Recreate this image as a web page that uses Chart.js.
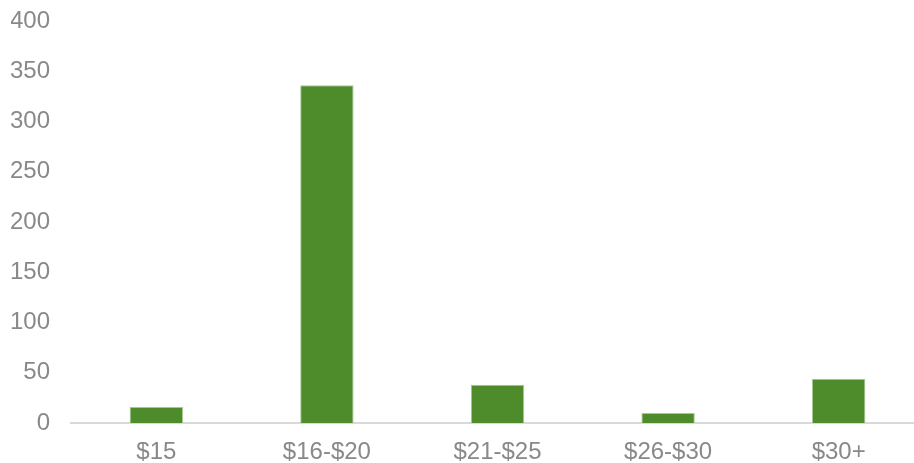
<!DOCTYPE html>
<html>
<head>
<meta charset="utf-8">
<script src="https://cdn.jsdelivr.net/npm/chart.js@4/dist/chart.umd.min.js"></script>
<style>
    html, body { margin: 0; padding: 0; background: #fff; overflow: hidden; }
    #wrap { width: 924px; height: 463px; position: relative; }
</style>
</head>
<body>
<div id="wrap"><canvas id="price-chart"></canvas></div>
<script>
const categories = ['$15', '$16-$20', '$21-$25', '$26-$30', '$30+'];
const counts = [16, 336, 38, 10, 44];
const yTicks = [0, 50, 100, 150, 200, 250, 300, 350, 400];

const labelColor = '#898989';
const labelFont = { family: '"Liberation Sans", Arial, sans-serif', size: 24 };

const chartEl = document.getElementById('price-chart');
new Chart(chartEl.getContext('2d'), {
    type: 'bar',
    data: {
        labels: categories,
        datasets: [{
            data: counts,
            backgroundColor: '#4e8b2b',
            borderColor: '#a6c895',
            borderWidth: 1,
            barPercentage: 0.313,
            categoryPercentage: 1,
        }],
    },
    options: {
        responsive: true,
        maintainAspectRatio: false,
        animation: false,
        layout: { padding: { top: 21, left: 11, right: 0, bottom: 0 } },
        plugins: { legend: { display: false }, tooltip: { enabled: false } },
        scales: {
            x: {
                grid: { display: false, drawTicks: false },
                border: { display: true, color: '#d9d9d9', width: 2 },
                ticks: { color: labelColor, font: labelFont, padding: 15, maxRotation: 0 },
                afterFit: (scale) => { scale.height = 40; },
            },
            y: {
                min: 0,
                max: 400,
                afterBuildTicks: (scale) => { scale.ticks = yTicks.map((v) => ({ value: v })); },
                grid: { display: false, drawTicks: false },
                border: { display: false },
                ticks: { color: labelColor, font: labelFont, padding: 21 },
                afterFit: (scale) => {
                    scale.width = 60;
                    scale.paddingTop = 0;
                    scale.paddingBottom = 0;
                },
            },
        },
    },
});
</script>
</body>
</html>
